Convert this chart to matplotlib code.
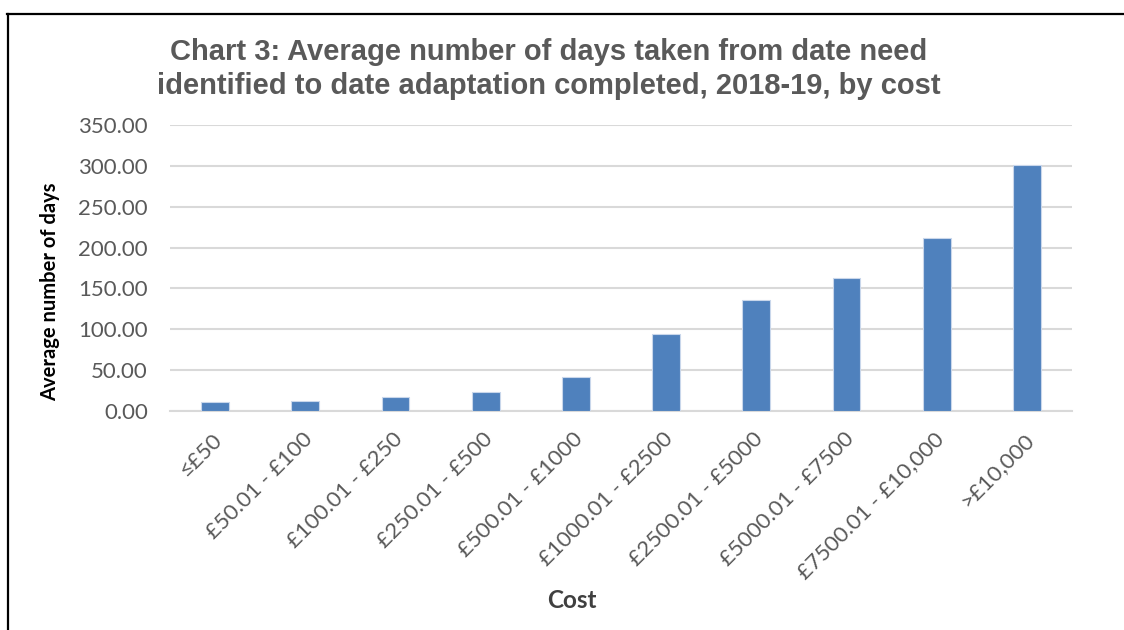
import matplotlib
matplotlib.use("Agg")
import matplotlib.pyplot as plt
from matplotlib.lines import Line2D
from matplotlib.transforms import ScaledTranslation

categories = ["≤£50", "£50.01 - £100", "£100.01 - £250", "£250.01 - £500",
              "£500.01 - £1000", "£1000.01 - £2500", "£2500.01 - £5000",
              "£5000.01 - £7500", "£7500.01 - £10,000", ">£10,000"]
values = [11.5, 11.8, 16.8, 23.3, 42.0, 94.5, 135.5, 162.5, 211.5, 300.5]
yticks = [0, 50, 100, 150, 200, 250, 300, 350]
title = "Chart 3: Average number of days taken from date need\nidentified to date adaptation completed, 2018-19, by cost"

W, H = 1124, 630
fig = plt.figure(figsize=(W / 100, H / 100), dpi=100)
ax = fig.add_axes([170 / W, (H - 411) / H, (1072 - 170) / W, (411 - 125) / H])

x = list(range(len(categories)))
ax.bar(x, values, width=0.31, color="#4F81BD", edgecolor="#c9d7eb", linewidth=0.8, zorder=3)
ax.set_xlim(-0.5, len(categories) - 0.5)
ax.set_ylim(0, 350)
ax.set_yticks(yticks)
ax.set_yticklabels([f"{v:.2f}" for v in yticks], family="Lato", fontsize=16, color="#595959")
ax.set_xticks(x)
ax.set_xticklabels(categories, rotation=45, ha="right", va="center", rotation_mode="anchor",
                   family="Lato", fontsize=16, color="#595959")
ax.tick_params(axis="both", length=0)
ax.tick_params(axis="y", pad=16)
ax.tick_params(axis="x", pad=18)
off = ScaledTranslation(4 / 100, 0, fig.dpi_scale_trans)
for lbl in ax.get_xticklabels():
    lbl.set_transform(lbl.get_transform() + off)
ax.grid(axis="y", color="#d9d9d9", linewidth=1.5, zorder=0)
for s in ["top", "right", "left"]:
    ax.spines[s].set_visible(False)
ax.spines["bottom"].set_color("#d9d9d9")
ax.spines["bottom"].set_linewidth(1.5)

fig.text(549 / W, 1 - 69 / H, title, ha="center", va="center", family="Liberation Sans",
         fontweight="bold", fontsize=21, color="#595959", linespacing=1.25)
fig.text(50 / W, 1 - 292 / H, "Average number of days", rotation=90, ha="center", va="center",
         family="Lato", fontweight="bold", fontsize=14.5, color="black")
fig.text(572 / W, 1 - 601 / H, "Cost", ha="center", va="center",
         family="Lato", fontweight="bold", fontsize=17.5, color="#404040")

fig.add_artist(Line2D([7.5 / W, 7.5 / W], [0, 1 - 13.5 / H], transform=fig.transFigure,
                      color="black", linewidth=1.6))
fig.add_artist(Line2D([6.7 / W, 1], [1 - 13.5 / H, 1 - 13.5 / H], transform=fig.transFigure,
                      color="black", linewidth=1.6))

fig.savefig("out.png", dpi=100)
